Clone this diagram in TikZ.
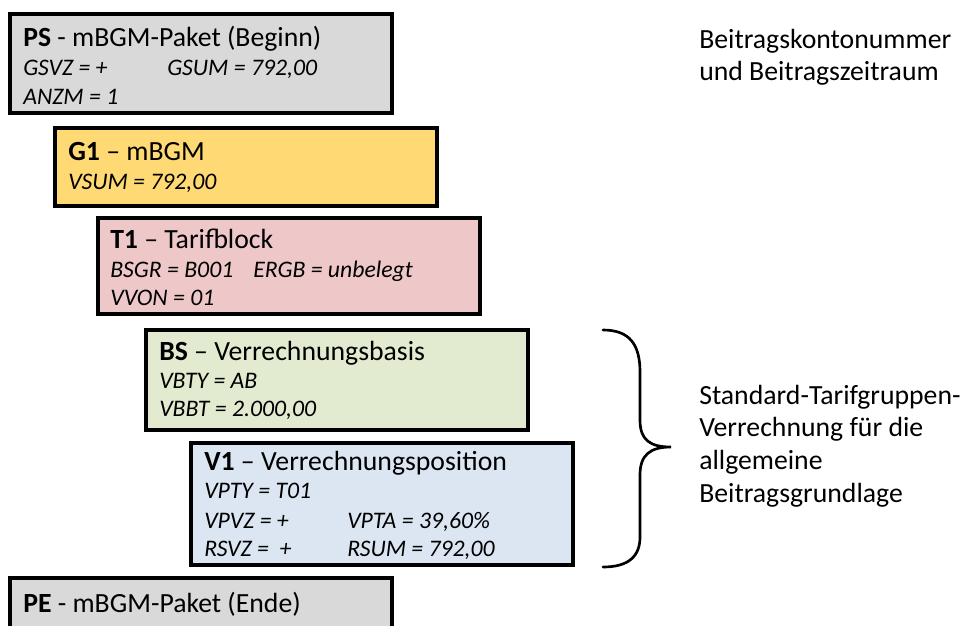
\documentclass[tikz,border=0pt]{standalone}
\usepackage{fontspec}
\setmainfont{Carlito}
\usetikzlibrary{shadows}
\definecolor{psgray}{RGB}{217,217,217}
\definecolor{gyellow}{RGB}{255,217,115}
\definecolor{tpink}{RGB}{238,200,200}
\definecolor{bgreen}{RGB}{226,234,207}
\definecolor{vblue}{RGB}{220,230,242}
\begin{document}
\begin{tikzpicture}[x=0.75pt,y=-0.75pt,
  box/.style={draw=black, line width=3pt, rectangle, inner sep=0pt, outer sep=0pt,
    anchor=north west, minimum width=286.5pt,
    drop shadow={shadow xshift=1pt, shadow yshift=-1pt, opacity=0.3}},
  ttl/.style={inner sep=0pt, anchor=base west, font=\fontsize{20.8pt}{24pt}\selectfont},
  itl/.style={inner sep=0pt, anchor=base west, font=\fontsize{17.8pt}{21pt}\selectfont\itshape},
  side/.style={inner sep=0pt, anchor=base west, font=\fontsize{20.8pt}{24pt}\selectfont},
  brace/.style={draw=black, line width=2pt, line cap=round}]
\useasboundingbox (0,0) rectangle (963,625);
% boxes
\node[box, fill=psgray, minimum height=74.25pt] (ps) at (10,14) {};
\node[box, fill=gyellow, minimum height=58.5pt] (g1) at (55,128) {};
\node[box, fill=tpink, minimum height=72pt] (t1) at (98,218) {};
\node[box, fill=bgreen, minimum height=75pt] (bs) at (146,330) {};
\node[box, fill=vblue, minimum height=91.5pt] (v1) at (191,443) {};
\node[box, fill=psgray, minimum height=60pt] (pe) at (10,578) {};
% PS
\node[ttl] (pst) at (23,46) {\textbf{PS} - mBGM-Paket (Beginn)};
\node[itl] (psa) at (23,75) {GSVZ = +};
\node[itl] (psb) at (167,75) {GSUM = 792,00};
\node[itl] (psc) at (23,104) {ANZM = 1};
% G1
\node[ttl] (g1t) at (68,160) {\textbf{G1} – mBGM};
\node[itl] (g1a) at (68,189) {VSUM = 792,00};
% T1
\node[ttl] (t1t) at (110,248) {\textbf{T1} – Tarifblock};
\node[itl] (t1a) at (110,277) {BSGR = B001};
\node[itl] (t1b) at (253,277) {ERGB = unbelegt};
\node[itl] (t1c) at (110,305) {VVON = 01};
% BS
\node[ttl] (bst) at (159,360) {\textbf{BS} – Verrechnungsbasis};
\node[itl] (bsa) at (159,388) {VBTY = AB};
\node[itl] (bsb) at (159,416) {VBBT = 2.000,00};
% V1
\node[ttl] (v1t) at (204,470) {\textbf{V1} – Verrechnungsposition};
\node[itl] (v1a) at (204,498) {VPTY = T01};
\node[itl] (v1b) at (204,528) {VPVZ = +};
\node[itl] (v1c) at (347,528) {VPTA = 39,60\%};
\node[itl] (v1d) at (204,556) {RSVZ =\ \ +};
\node[itl] (v1e) at (347,556) {RSUM = 792,00};
% PE
\node[ttl] (pet) at (23,612) {\textbf{PE} - mBGM-Paket (Ende)};
% side texts
\node[side] (s1) at (699,48) {Beitragskontonummer};
\node[side] (s2) at (699,80) {und Beitragszeitraum};
\node[side] (r1) at (699,404) {Standard-Tarifgruppen-};
\node[side] (r2) at (699,436) {Verrechnung für die};
\node[side] (r3) at (699,469) {allgemeine};
\node[side] (r4) at (699,502) {Beitragsgrundlage};
% brace
\draw[brace] (603,330) .. controls (630,330) and (640,345) .. (640,372)
  -- (640,420) .. controls (640,440) and (650,447) .. (671,447)
  .. controls (650,447) and (640,455) .. (640,475)
  -- (640,537) .. controls (640,555) and (630,567) .. (603,567);
\end{tikzpicture}
\end{document}
